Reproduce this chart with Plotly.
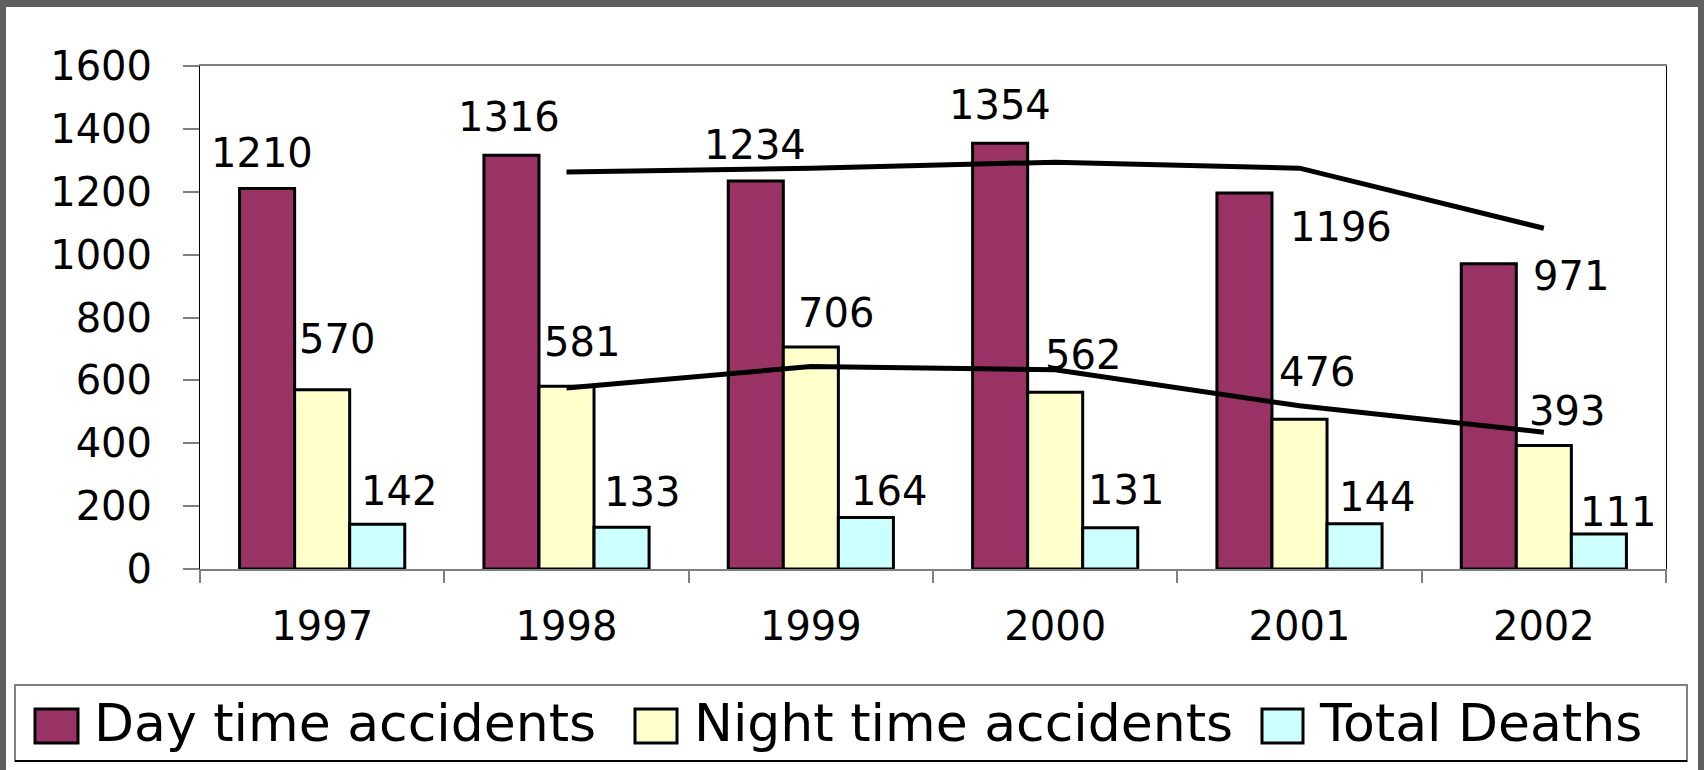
import plotly.graph_objects as go

# ---------------- data ----------------
years = ["1997", "1998", "1999", "2000", "2001", "2002"]
day_accidents = [1210, 1316, 1234, 1354, 1196, 971]
night_accidents = [570, 581, 706, 562, 476, 393]
total_deaths = [142, 133, 164, 131, 144, 111]
# trend lines (start at 1998)
day_trend = [None, 1263, 1275, 1294, 1275, 1084]
night_trend = [None, 576, 644, 634, 519, 435]
series_names = ["Day time accidents", "Night time accidents", "Total Deaths"]
y_ticks = [0, 200, 400, 600, 800, 1000, 1200, 1400, 1600]

# ---------------- styles ----------------
colors = ["#993366", "#FFFFCC", "#CCFFFF"]
FONT = "DejaVu Sans"
W, H = 1704, 770
L, R, T, B = 200, 1666, 66, 569  # plot area in pixels


def px(x):
    return (x - L) / (R - L)


def py(y):
    return (B - y) / (B - T)


# label pixel offsets (dx, dy) relative to category centre / bar top
day_dx = [-60, -58, -56, -55, 41, 27]
day_dy = [36, 38, 36, 38, -34, -12]
night_dx = [15, 15, 25, 28, 17, 23]
night_dy = [51, 44, 34, 37, 47, 34]
deaths_dx = [77, 75, 78, 71, 77, 74]
deaths_dy = [33, 35, 26, 38, 27, 22]

fig = go.Figure()
for name, vals, col in zip(series_names, [day_accidents, night_accidents, total_deaths], colors):
    fig.add_trace(go.Bar(x=years, y=vals, name=name,
                         marker=dict(color=col, line=dict(color="black", width=3)),
                         showlegend=False))

for tr in [day_trend, night_trend]:
    fig.add_trace(go.Scatter(x=years, y=tr, mode="lines",
                             line=dict(color="black", width=5),
                             showlegend=False, hoverinfo="skip"))

annotations = []
for vals, dxs, dys in [(day_accidents, day_dx, day_dy),
                       (night_accidents, night_dx, night_dy),
                       (total_deaths, deaths_dx, deaths_dy)]:
    for i, (v, dx, dy) in enumerate(zip(vals, dxs, dys)):
        annotations.append(dict(x=i, y=v, xref="x", yref="y", text=str(v),
                                showarrow=False, xanchor="center", yanchor="middle",
                                xshift=dx, yshift=dy,
                                font=dict(family=FONT, size=40, color="black")))

shapes = []
# outer frame
shapes.append(dict(type="rect", xref="paper", yref="paper", layer="below",
                   x0=px(6), x1=px(1698), y0=py(772), y1=py(7),
                   fillcolor="white", line=dict(width=0)))
# legend box
shapes.append(dict(type="rect", xref="paper", yref="paper",
                   x0=px(15), x1=px(1687), y0=py(761), y1=py(685),
                   fillcolor="white", line=dict(color="#808080", width=2)))
shapes.append(dict(type="line", xref="paper", yref="paper",
                   x0=px(15), x1=px(1687), y0=py(761), y1=py(761),
                   line=dict(color="black", width=2)))

legend_sym_x = [(35, 78), (635, 677), (1262, 1303)]
legend_txt_x = [92, 692, 1317]
for (x0, x1), tx, name, col in zip(legend_sym_x, legend_txt_x, series_names, colors):
    shapes.append(dict(type="rect", xref="paper", yref="paper",
                       x0=px(x0), x1=px(x1), y0=py(743), y1=py(709),
                       fillcolor=col, line=dict(color="black", width=3)))
    annotations.append(dict(x=px(tx), y=py(723), xref="paper", yref="paper",
                            text=name, showarrow=False, xanchor="left", yanchor="middle",
                            font=dict(family=FONT, size=52, color="black")))

fig.update_layout(
    width=W, height=H,
    margin=dict(l=L, r=W - R, t=T, b=H - B, pad=0),
    paper_bgcolor="#5f5f5f",
    plot_bgcolor="white",
    barmode="group", bargap=0.324, bargroupgap=0,
    showlegend=False,
    font=dict(family=FONT, color="black"),
    annotations=annotations,
    shapes=shapes,
    xaxis=dict(type="category", range=[-0.5, 5.5], autorange=False,
               showline=True, linecolor="#808080", linewidth=2, mirror=True,
               ticks="outside", tickson="boundaries", ticklen=12, tickcolor="#808080", tickwidth=2,
               tickfont=dict(family=FONT, size=40, color="black"), showgrid=False,
               tickangle=0, ticklabelstandoff=21),
    yaxis=dict(range=[0, 1600], autorange=False, tickvals=y_ticks, showline=True,
               linecolor="black", linewidth=1,
               mirror=True, ticks="outside", ticklen=16, tickcolor="#808080", tickwidth=2,
               tickfont=dict(family=FONT, size=40, color="black"), showgrid=False, zeroline=False,
               ticklabelstandoff=23),
)

fig.write_html("out.html",
               config={"displayModeBar": False, "staticPlot": True},
               post_script="document.body.style.margin='0';document.body.style.padding='0';"
                           "document.body.style.overflow='hidden';")
